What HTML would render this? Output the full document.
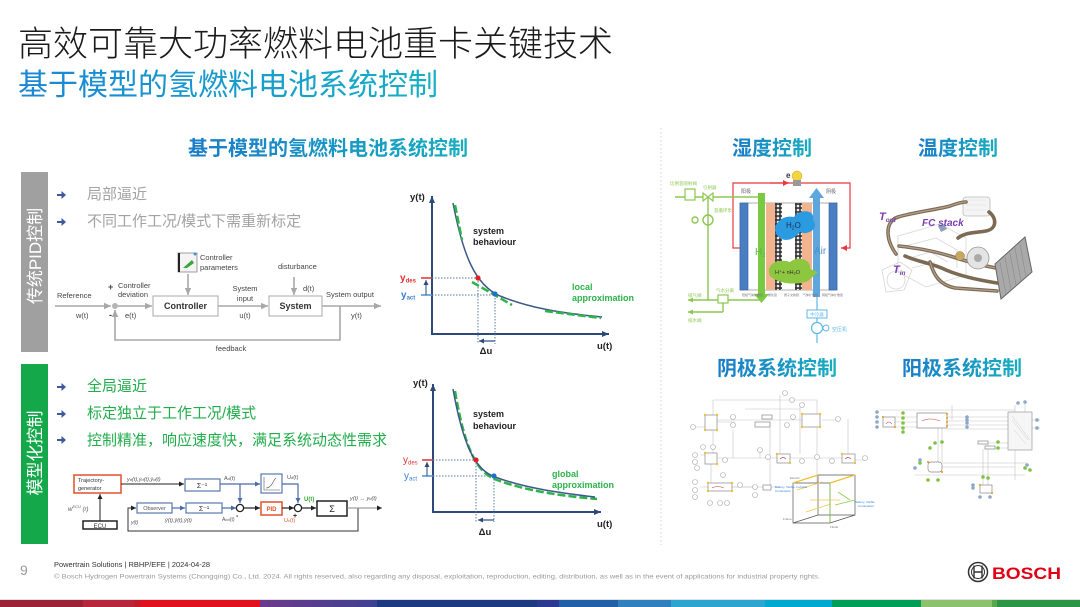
<!DOCTYPE html>
<html><head><meta charset="utf-8">
<style>
html,body{margin:0;padding:0;background:#fff;}
body{width:1080px;height:607px;overflow:hidden;position:relative;}
svg{position:absolute;left:0;top:0;}
text{font-family:"Liberation Sans","Noto Sans CJK SC",sans-serif;}
</style></head><body>
<svg width="1080" height="607" viewBox="0 0 1080 607" xmlns="http://www.w3.org/2000/svg">
<defs>
 <linearGradient id="gT" x1="0" x2="1" y1="0" y2="0"><stop offset="0" stop-color="#1a86d4"/><stop offset="1" stop-color="#16b0c4"/></linearGradient>
 <linearGradient id="gH" x1="0" x2="1" y1="0" y2="0"><stop offset="0" stop-color="#1a7cc8"/><stop offset="1" stop-color="#18aebf"/></linearGradient>
 <linearGradient id="gP" x1="0" x2="1"><stop offset="0" stop-color="#6c3a8c"/><stop offset="1" stop-color="#3f4090"/></linearGradient>
 <marker id="ag" markerWidth="8" markerHeight="8" refX="7" refY="4" orient="auto" markerUnits="userSpaceOnUse"><path d="M0,0.8 L7,4 L0,7.2 z" fill="#a8a8a8"/></marker>
 <marker id="ab" markerWidth="8" markerHeight="8" refX="7" refY="4" orient="auto" markerUnits="userSpaceOnUse"><path d="M0,1 L7,4 L0,7 z" fill="#2b4a7b"/></marker>
 <marker id="abs" markerWidth="6" markerHeight="6" refX="5" refY="3" orient="auto" markerUnits="userSpaceOnUse"><path d="M0,0.5 L5,3 L0,5.5 z" fill="#2b4a7b"/></marker>
 <marker id="ak" markerWidth="6" markerHeight="6" refX="5" refY="3" orient="auto" markerUnits="userSpaceOnUse"><path d="M0,0.5 L5,3 L0,5.5 z" fill="#222"/></marker>
 <marker id="abl" markerWidth="6" markerHeight="6" refX="5" refY="3" orient="auto" markerUnits="userSpaceOnUse"><path d="M0,0.5 L5,3 L0,5.5 z" fill="#4a6aa8"/></marker>
 <marker id="ar" markerWidth="7" markerHeight="7" refX="6" refY="3.5" orient="auto" markerUnits="userSpaceOnUse"><path d="M0,0.5 L6,3.5 L0,6.5 z" fill="#e8393f"/></marker>
 <marker id="agr" markerWidth="6" markerHeight="6" refX="5" refY="3" orient="auto" markerUnits="userSpaceOnUse"><path d="M0,0.5 L5,3 L0,5.5 z" fill="#8cc850"/></marker>
 <pattern id="chk" width="4" height="4" patternUnits="userSpaceOnUse"><rect width="4" height="4" fill="#3a3a3a"/><circle cx="2" cy="2" r="1.3" fill="#eee"/></pattern>
</defs>

<!-- Titles -->
<text x="18" y="56" font-size="35" fill="#1a1a1a" font-weight="300">高效可靠大功率燃料电池重卡关键技术</text>
<text x="18" y="95" font-size="30" fill="url(#gT)">基于模型的氢燃料电池系统控制</text>
<text x="328" y="155" font-size="20" font-weight="700" text-anchor="middle" fill="url(#gH)">基于模型的氢燃料电池系统控制</text>

<!-- separator -->
<line x1="661" y1="128" x2="661" y2="545" stroke="#cfcfcf" stroke-width="1" stroke-dasharray="1.5,2.5"/>

<!-- Left bars -->
<rect x="21" y="172" width="27" height="180" fill="#a0a0a0"/>
<text transform="translate(41,256) rotate(-90)" font-size="17" fill="#fff" text-anchor="middle">传统PID控制</text>
<rect x="21" y="364" width="27" height="180" fill="#14a84a"/>
<text transform="translate(41,453) rotate(-90)" font-size="17" fill="#fff" text-anchor="middle">模型化控制</text>

<!-- bullet arrows -->
<g fill="#3d5a99">
 <path d="M57,194 h4.5 v-3 l4.5,4 l-4.5,4 v-3 h-4.5 z"/>
 <path d="M57,221 h4.5 v-3 l4.5,4 l-4.5,4 v-3 h-4.5 z"/>
 <path d="M57,386 h4.5 v-3 l4.5,4 l-4.5,4 v-3 h-4.5 z"/>
 <path d="M57,413 h4.5 v-3 l4.5,4 l-4.5,4 v-3 h-4.5 z"/>
 <path d="M57,439 h4.5 v-3 l4.5,4 l-4.5,4 v-3 h-4.5 z"/>
</g>
<g font-size="15">
 <text x="87" y="199" fill="#a3a3a3">局部逼近</text>
 <text x="87" y="226" fill="#a3a3a3">不同工作工况/模式下需重新标定</text>
 <text x="87" y="391" fill="#22ad4b">全局逼近</text>
 <text x="87" y="418" fill="#22ad4b">标定独立于工作工况/模式</text>
 <text x="87" y="445" fill="#22ad4b">控制精准，响应速度快，满足系统动态性需求</text>
</g>

<!-- PID diagram -->
<g stroke="#a8a8a8" stroke-width="1.6" fill="none">
 <line x1="55" y1="306" x2="111" y2="306" marker-end="url(#ag)"/>
 <line x1="118" y1="306" x2="152" y2="306" marker-end="url(#ag)"/>
 <line x1="218" y1="306" x2="268" y2="306" marker-end="url(#ag)"/>
 <line x1="322" y1="306" x2="381" y2="306" marker-end="url(#ag)"/>
 <line x1="188" y1="274" x2="188" y2="295" marker-end="url(#ag)"/>
 <line x1="294" y1="277" x2="294" y2="295" marker-end="url(#ag)"/>
 <polyline points="340,306 340,340 115,340 115,310" marker-end="url(#ag)"/>
</g>
<circle cx="115" cy="306" r="3" fill="#b5b5b5"/>
<rect x="153" y="296" width="65" height="20" fill="#fff" stroke="#aaa" stroke-width="1"/>
<rect x="269" y="296" width="53" height="20" fill="#fff" stroke="#aaa" stroke-width="1"/>
<rect x="178" y="253" width="19" height="19" fill="#f4f4f4" stroke="#888" stroke-width="0.8"/>
<line x1="179" y1="253" x2="179" y2="272" stroke="#222" stroke-width="2"/>
<path d="M183,268 L192,260 L194,263 L187,268 z" fill="#3aa63a"/>
<circle cx="195" cy="254" r="1.5" fill="#4a90d9"/>
<g font-size="7.5" fill="#444">
 <text x="57" y="298">Reference</text>
 <text x="76" y="318">w(t)</text>
 <text x="108" y="290" font-weight="700" font-size="9">+</text>
 <text x="109" y="318" font-weight="700" font-size="9">-</text>
 <text x="118" y="288">Controller</text>
 <text x="118" y="297">deviation</text>
 <text x="125" y="318">e(t)</text>
 <text x="200" y="260">Controller</text>
 <text x="200" y="270">parameters</text>
 <text x="278" y="269">disturbance</text>
 <text x="303" y="291">d(t)</text>
 <text x="245" y="291" text-anchor="middle">System</text>
 <text x="245" y="301" text-anchor="middle">input</text>
 <text x="245" y="318" text-anchor="middle">u(t)</text>
 <text x="326" y="297">System output</text>
 <text x="351" y="318">y(t)</text>
 <text x="231" y="351" text-anchor="middle">feedback</text>
</g>
<text x="185.5" y="309" font-size="9" font-weight="700" fill="#333" text-anchor="middle">Controller</text>
<text x="295.5" y="309" font-size="9" font-weight="700" fill="#333" text-anchor="middle">System</text>

<!-- Graph 1 -->
<g>
 <line x1="432" y1="335" x2="432" y2="196" stroke="#2b4a7b" stroke-width="2" marker-end="url(#ab)"/>
 <line x1="431" y1="334" x2="609" y2="334" stroke="#2b4a7b" stroke-width="2" marker-end="url(#ab)"/>
 <g stroke="#5a7aa0" stroke-width="1" stroke-dasharray="1.5,1.5" fill="none">
  <line x1="432" y1="278" x2="478" y2="278"/>
  <line x1="432" y1="295" x2="495" y2="295"/>
  <line x1="478" y1="278" x2="478" y2="344"/>
  <line x1="495" y1="295" x2="495" y2="344"/>
 </g>
 <line x1="421" y1="278" x2="432" y2="278" stroke="#e03030" stroke-width="1.5"/>
 <line x1="421" y1="295" x2="432" y2="295" stroke="#4a90d9" stroke-width="1.5"/>
 <line x1="426" y1="295" x2="426" y2="280" stroke="#2b4a7b" stroke-width="1" marker-end="url(#abs)"/>
 <path d="M453,203 C463,255 475,285 500,296 C530,308 560,313 602,317" fill="none" stroke="#3d5a87" stroke-width="1.5"/>
 <g stroke="#2db34a" stroke-width="2.5" stroke-dasharray="8,3" fill="none">
  <path d="M455,205 C458,220 460,230 462,240"/>
  <line x1="472" y1="282" x2="512" y2="305"/>
  <line x1="545" y1="311" x2="601" y2="318"/>
 </g>
 <circle cx="478" cy="278" r="2.6" fill="#e02020"/>
 <circle cx="495" cy="294" r="2.6" fill="#1e6fd0"/>
 <line x1="495" y1="341" x2="479" y2="341" stroke="#2b4a7b" stroke-width="1.2" marker-end="url(#abs)"/>
 <g font-weight="700" font-size="9.5" fill="#222">
  <text x="410" y="200">y(t)</text>
  <text x="597" y="349">u(t)</text>
  <text x="486" y="354" text-anchor="middle">Δu</text>
  <text x="473" y="234" font-size="9">system</text>
  <text x="473" y="245" font-size="9">behaviour</text>
  <text x="572" y="290" font-size="9" fill="#2ab34a">local</text>
  <text x="572" y="301" font-size="9" fill="#2ab34a">approximation</text>
 </g>
 <text x="400" y="281" font-size="10" font-weight="700" fill="#e03030">y<tspan font-size="6" dy="1.5">des</tspan></text>
 <text x="401" y="298" font-size="10" font-weight="700" fill="#3a7fd0">y<tspan font-size="6" dy="1.5">act</tspan></text>
</g>

<!-- Graph 2 -->
<g>
 <line x1="433" y1="513" x2="433" y2="384" stroke="#2b4a7b" stroke-width="2" marker-end="url(#ab)"/>
 <line x1="432" y1="512" x2="601" y2="512" stroke="#2b4a7b" stroke-width="2" marker-end="url(#ab)"/>
 <g stroke="#5a7aa0" stroke-width="1" stroke-dasharray="1.5,1.5" fill="none">
  <line x1="433" y1="460" x2="476" y2="460"/>
  <line x1="433" y1="476" x2="494" y2="476"/>
  <line x1="476" y1="460" x2="476" y2="522"/>
  <line x1="494" y1="476" x2="494" y2="522"/>
 </g>
 <line x1="422" y1="460" x2="433" y2="460" stroke="#e03030" stroke-width="1.5"/>
 <line x1="422" y1="476" x2="433" y2="476" stroke="#4a90d9" stroke-width="1.5"/>
 <line x1="427" y1="476" x2="427" y2="462" stroke="#2b4a7b" stroke-width="1" marker-end="url(#abs)"/>
 <path d="M455,391 C465,450 477,473 497,480 C527,491 562,496 597,499" fill="none" stroke="#2db34a" stroke-width="2.5" stroke-dasharray="8,3"/>
 <path d="M453,389 C463,445 475,470 495,477 C525,488 560,493 595,497" fill="none" stroke="#3d5a87" stroke-width="1.5"/>
 <circle cx="476" cy="460" r="2.6" fill="#e02020"/>
 <circle cx="494" cy="476" r="2.6" fill="#1e6fd0"/>
 <line x1="494" y1="520" x2="478" y2="520" stroke="#2b4a7b" stroke-width="1.2" marker-end="url(#abs)"/>
 <g font-weight="700" font-size="9.5" fill="#222">
  <text x="413" y="386">y(t)</text>
  <text x="597" y="527">u(t)</text>
  <text x="485" y="535" text-anchor="middle">Δu</text>
  <text x="473" y="417" font-size="9">system</text>
  <text x="473" y="429" font-size="9">behaviour</text>
  <text x="552" y="477" font-size="9" fill="#2ab34a">global</text>
  <text x="552" y="488" font-size="9" fill="#2ab34a">approximation</text>
 </g>
 <text x="403" y="463" font-size="10" fill="#e03030">y<tspan font-size="6" dy="1.5">des</tspan></text>
 <text x="404" y="479" font-size="10" fill="#3a7fd0">y<tspan font-size="6" dy="1.5">act</tspan></text>
</g>

<!-- Model-based diagram -->
<g>
 <rect x="74" y="475" width="47" height="18" fill="#fff" stroke="#e2502a" stroke-width="1.5"/>
 <text x="78" y="482" font-size="5.5" fill="#333">Trajectory-</text>
 <text x="78" y="490" font-size="5.5" fill="#333">generator</text>
 <line x1="121" y1="484" x2="184" y2="484" stroke="#222" stroke-width="1" marker-end="url(#ak)"/>
 <text x="127" y="481" font-size="5.5" font-style="italic" fill="#555">y<tspan font-size="4">d</tspan>(t),ẏ<tspan font-size="4">d</tspan>(t),ÿ<tspan font-size="4">d</tspan>(t)</text>
 <rect x="185" y="479" width="35" height="12" fill="#fff" stroke="#5b79b0" stroke-width="1.2"/>
 <text x="202" y="488" font-size="7" text-anchor="middle" fill="#333">Σ⁻¹</text>
 <line x1="220" y1="484" x2="260" y2="484" stroke="#4a6aa8" stroke-width="1.2" marker-end="url(#abl)"/>
 <text x="224" y="480" font-size="5.5" fill="#555">A<tspan font-size="4">d</tspan>(t)</text>
 <rect x="261" y="474" width="21" height="19" fill="#fff" stroke="#5b79b0" stroke-width="1.2"/>
 <path d="M264,477 V490 H280 M266,488 C272,488 273,480 276,478" fill="none" stroke="#555" stroke-width="0.6"/>
 <text x="287" y="479" font-size="5.5" fill="#555">U<tspan font-size="4">d</tspan>(t)</text>
 <polyline points="282,484 298,484 298,503" fill="none" stroke="#4a6aa8" stroke-width="1.2" marker-end="url(#abl)"/>
 <line x1="240" y1="484" x2="240" y2="503" stroke="#4a6aa8" stroke-width="1.2" marker-end="url(#abl)"/>
 <polyline points="358,508 358,531 128,531 128,508 136,508" fill="none" stroke="#333" stroke-width="1" marker-end="url(#ak)"/>
 <rect x="137" y="503" width="35" height="10" fill="#fff" stroke="#5b79b0" stroke-width="1.2"/>
 <text x="154.5" y="510" font-size="5.5" text-anchor="middle" fill="#555">Observer</text>
 <line x1="172" y1="508" x2="185" y2="508" stroke="#4a6aa8" stroke-width="1.2" marker-end="url(#abl)"/>
 <rect x="186" y="503" width="36" height="10" fill="#fff" stroke="#5b79b0" stroke-width="1.2"/>
 <text x="204" y="511" font-size="7" text-anchor="middle" fill="#333">Σ⁻¹</text>
 <line x1="222" y1="508" x2="236" y2="508" stroke="#4a6aa8" stroke-width="1.2" marker-end="url(#abl)"/>
 <line x1="244" y1="508" x2="260" y2="508" stroke="#222" stroke-width="1.2" marker-end="url(#ak)"/>
 <rect x="261" y="502" width="21" height="13" fill="#fff" stroke="#e2502a" stroke-width="1.5"/>
 <text x="271.5" y="511" font-size="6" font-weight="700" text-anchor="middle" fill="#e2502a">PID</text>
 <line x1="282" y1="508" x2="294" y2="508" stroke="#222" stroke-width="1.2" marker-end="url(#ak)"/>
 <line x1="302" y1="508" x2="316" y2="508" stroke="#222" stroke-width="1.2" marker-end="url(#ak)"/>
 <circle cx="240" cy="508" r="3.6" fill="#fff" stroke="#222" stroke-width="1.3"/>
 <circle cx="298" cy="508" r="3.6" fill="#fff" stroke="#222" stroke-width="1.3"/>
 <rect x="317" y="501" width="30" height="15" fill="#fff" stroke="#222" stroke-width="1.5"/>
 <text x="332" y="512" font-size="9" text-anchor="middle" fill="#222">Σ</text>
 <line x1="347" y1="508" x2="382" y2="508" stroke="#888" stroke-width="1" marker-end="url(#ak)"/>
 <text x="350" y="500" font-size="5.5" font-style="italic" fill="#555">y(t) → y<tspan font-size="4">d</tspan>(t)</text>
 <text x="304" y="501" font-size="6" font-weight="700" fill="#3aaa35">U(t)</text>
 <text x="284" y="522" font-size="5.5" fill="#e05a30">U<tspan font-size="4">c</tspan>(t)</text>
 <text x="236" y="518" font-size="7" font-weight="700" fill="#222">-</text>
 <text x="293" y="518" font-size="7" font-weight="700" fill="#222">+</text>
 <text x="222" y="521" font-size="5" fill="#555">A<tspan font-size="3.5">init</tspan>(t)</text>
 <text x="165" y="522" font-size="5.5" font-style="italic" fill="#555">ŷ(t),ŷ(t),ŷ(t)</text>
 <text x="131" y="524" font-size="5" font-style="italic" fill="#555">y(t)</text>
 <rect x="83" y="521" width="34" height="8" fill="#fff" stroke="#222" stroke-width="1.5"/>
 <text x="100" y="528" font-size="6" text-anchor="middle" fill="#333">ECU</text>
 <line x1="100" y1="521" x2="100" y2="494" stroke="#222" stroke-width="1" marker-end="url(#ak)"/>
 <text x="68" y="511" font-size="6" font-style="italic" fill="#555">w<tspan font-size="4" dy="-3">ECU</tspan><tspan dy="3"> (r)</tspan></text>
</g>

<!-- Right headers -->
<g font-size="20" font-weight="700" text-anchor="middle" fill="url(#gH)">
 <text x="772" y="155">湿度控制</text>
 <text x="958" y="155">温度控制</text>
 <text x="777" y="375">阴极系统控制</text>
 <text x="962" y="375">阳极系统控制</text>
</g>

<!-- Humidity diagram -->
<g>
 <polyline points="741,248 733,248 733,183 850,183 850,248 841,248" fill="none" stroke="#e8393f" stroke-width="1.2" marker-end="url(#ar)"/>
 <line x1="770" y1="183" x2="789" y2="183" stroke="#e8393f" stroke-width="1.2" marker-end="url(#ar)"/>
 <circle cx="797" cy="176" r="5" fill="#f5d442" stroke="#c8a820" stroke-width="0.5"/>
 <rect x="793" y="180" width="8" height="6" fill="#999"/>
 <text x="786" y="178" font-size="8" font-weight="700" fill="#333">e</text>
 <text x="741" y="193" font-size="5" fill="#666">阳极</text>
 <text x="826" y="193" font-size="5" fill="#666">阴极</text>
 <rect x="740" y="203" width="97" height="87" fill="#fff" stroke="#999" stroke-width="0.8"/>
 <rect x="740" y="203" width="8" height="87" fill="#4a7ec2" stroke="#2f5f9f" stroke-width="0.6"/>
 <rect x="829" y="203" width="8" height="87" fill="#4a7ec2" stroke="#2f5f9f" stroke-width="0.6"/>
 <rect x="766" y="203" width="9" height="87" fill="#f2b48f"/>
 <rect x="775" y="203" width="7" height="87" fill="url(#chk)"/>
 <rect x="795" y="203" width="7" height="87" fill="url(#chk)"/>
 <rect x="802" y="203" width="10" height="87" fill="#f2b48f"/>
 <rect x="758" y="193" width="7" height="102" fill="#7ac943"/>
 <path d="M754,294 L769,294 L761.5,303 z" fill="#7ac943"/>
 <rect x="813" y="197" width="7" height="100" fill="#5fa6dc"/>
 <path d="M809,198 L824,198 L816.5,188 z" fill="#5fa6dc"/>
 <path d="M778,236 C770,228 780,214 794,217 C800,208 816,210 813,220 C820,228 808,236 800,232 C794,240 784,243 778,236 z" fill="#2a9be0"/>
 <text x="786" y="228" font-size="8" fill="#1a3050">H<tspan font-size="5" dy="1.5">2</tspan><tspan dy="-1.5">O</tspan></text>
 <path d="M770,276 C765,264 778,258 790,262 C798,255 812,260 810,269 L818,272 L808,281 C798,285 780,285 770,276 z" fill="#8dc63f"/>
 <text x="775" y="274" font-size="5.5" fill="#333">H⁺+ nH₂O</text>
 <text x="755" y="255" font-size="10" fill="#5ab845">H<tspan font-size="6" dy="2">2</tspan></text>
 <text x="814" y="254" font-size="10" fill="#4a90d0">Air</text>
 <g font-size="3" fill="#777">
  <text x="742" y="296">阳极气体扩散层</text><text x="768" y="296">催化层</text><text x="784" y="296">质子交换膜</text><text x="803" y="296">气体扩散层</text><text x="822" y="296">阴极气体扩散层</text>
 </g>
 <line x1="817" y1="297" x2="817" y2="343" stroke="#5fb8e8" stroke-width="1.2"/>
 <rect x="807" y="310" width="20" height="8" fill="#fff" stroke="#5fb8e8" stroke-width="1"/>
 <text x="817" y="316" font-size="4.5" text-anchor="middle" fill="#5fb8e8">中冷器</text>
 <circle cx="817" cy="328" r="5.5" fill="#fff" stroke="#5fb8e8" stroke-width="1.2"/>
 <circle cx="826" cy="328" r="3" fill="#fff" stroke="#5fb8e8" stroke-width="1"/>
 <text x="832" y="331" font-size="5" fill="#5fb8e8">空压机</text>
 <g stroke="#8cc850" stroke-width="1.4" fill="none">
  <line x1="675" y1="197" x2="758" y2="197"/>
  <line x1="708" y1="197" x2="708" y2="300"/>
  <line x1="763" y1="300" x2="688" y2="300" marker-end="url(#agr)"/>
  <line x1="723" y1="312" x2="688" y2="312" marker-end="url(#agr)"/>
  <line x1="723" y1="300" x2="723" y2="312"/>
  <circle cx="708" cy="220" r="5"/>
  <circle cx="695" cy="220" r="3"/>
 </g>
 <rect x="685" y="189" width="10" height="11" fill="#fff" stroke="#8cc850" stroke-width="1.2"/>
 <path d="M703,193 L713,201 L713,193 L703,201 z" fill="#fff" stroke="#8cc850" stroke-width="1.2"/>
 <rect x="718" y="295" width="10" height="8" fill="#fff" stroke="#8cc850" stroke-width="1.2"/>
 <g font-size="4.5" fill="#8cc850">
  <text x="670" y="185">比例氢喷射阀</text>
  <text x="703" y="189">引射器</text>
  <text x="714" y="212">氢循环泵</text>
  <text x="688" y="297">排气阀</text>
  <text x="716" y="292">气水分离</text>
  <text x="688" y="322">排水阀</text>
 </g>
</g>

<!-- Temperature illustration -->
<g>
 <g fill="none" stroke="#d6d6d6" stroke-width="0.8">
  <path d="M898,236 L940,224 L966,238 L966,275 L926,287 L898,272 z"/>
  <path d="M905,246 L936,238 L957,250 L957,268"/>
  <path d="M910,258 L930,252 L948,262 M912,268 L935,262"/>
  <circle cx="896" cy="280" r="9"/>
  <path d="M882,270 L900,262 L912,270 L904,290 L886,292 z"/>
 </g>
 <rect x="963" y="197" width="27" height="19" rx="3" fill="#f4f4f4" stroke="#bbb" stroke-width="0.8"/>
 <path d="M966,200 h20 M966,205 h20 M966,210 h20" stroke="#ddd" stroke-width="0.6"/>
 <g fill="none" stroke="#7d6a55" stroke-width="3.6" stroke-linecap="round">
  <path d="M896,254 C886,240 884,222 898,217 C915,212 935,210 950,206 C958,203 962,202 966,202"/>
  <path d="M989,212 C997,218 997,229 986,231 C975,233 966,232 958,238"/>
  <path d="M899,246 C915,248 930,250 950,256 C965,261 980,265 996,268"/>
  <path d="M905,256 C918,262 932,263 946,270 C960,276 978,280 997,283"/>
  <path d="M930,262 C934,276 940,285 955,288 L997,291"/>
 </g>
 <g fill="none" stroke="#b3a08a" stroke-width="1.2" stroke-linecap="round">
  <path d="M896,254 C886,240 884,222 898,217 C915,212 935,210 950,206 C958,203 962,202 966,202"/>
  <path d="M899,246 C915,248 930,250 950,256 C965,261 980,265 996,268"/>
  <path d="M930,262 C934,276 940,285 955,288 L997,291"/>
 </g>
 <circle cx="978" cy="258" r="11" fill="#e4e4e4" stroke="#999" stroke-width="0.8"/>
 <circle cx="978" cy="258" r="4" fill="#aaa"/>
 <circle cx="960" cy="256" r="4.5" fill="#c8a860" stroke="#8a7040" stroke-width="0.5"/>
 <path d="M938,226 l6,-2 l3,5 l-6,3 z" fill="#8fa0b8"/>
 <polygon points="995,264 1025,237 1032,272 1001,299" fill="#a9a9a9" stroke="#666" stroke-width="1"/>
 <g stroke="#8a8a8a" stroke-width="0.6">
  <line x1="1000" y1="262" x2="1006" y2="294"/><line x1="1005" y1="257" x2="1011" y2="290"/>
  <line x1="1010" y1="253" x2="1016" y2="285"/><line x1="1015" y1="248" x2="1021" y2="281"/>
  <line x1="1020" y1="244" x2="1026" y2="277"/>
 </g>
 <text x="879" y="220" font-size="11" font-weight="700" font-style="italic" fill="#7a3fb0">T<tspan font-size="6.5" dy="2">out</tspan></text>
 <text x="922" y="226" font-size="10" font-weight="700" font-style="italic" fill="#7a3fb0">FC stack</text>
 <text x="893" y="273" font-size="11" font-weight="700" font-style="italic" fill="#7a3fb0">T<tspan font-size="6.5" dy="2">in</tspan></text>
</g>

<!-- Cathode schematic -->
<g stroke="#c4c4c4" stroke-width="0.6" fill="none">
 <path d="M713,400 H817 M713,400 V415 M817,400 V415 M780,395 V454 M800,406 V454 M745,409 H800"/>
 <path d="M717,420 H802 M717,422 H735 M717,458 H842 M708,487 H780 M770,422 V488 M733,430 V458 M713,430 V453"/>
 <path d="M711,464 V483 M760,450 V458 M817,427 V483 M690,427 H705 M700,455 H705 M700,487 H708 M732,487 H755"/>
 <path d="M822,420 H838 M848,419 V454 M855,460 H865"/>
</g>
<g fill="#fff" stroke="#a8a8a8" stroke-width="0.6">
 <circle cx="785" cy="393" r="2.5"/><circle cx="792" cy="400" r="2.5"/><circle cx="802" cy="405" r="2.5"/>
 <circle cx="733" cy="417" r="2.5"/><circle cx="733" cy="425" r="2.5"/><circle cx="693" cy="427" r="2.5"/>
 <circle cx="793" cy="417" r="2.5"/><circle cx="838" cy="419" r="2.5"/><circle cx="787" cy="425" r="2.5"/>
 <circle cx="760" cy="450" r="2.5"/><circle cx="703" cy="447" r="2.5"/><circle cx="713" cy="447" r="2.5"/>
 <circle cx="695" cy="455" r="2.5"/><circle cx="695" cy="462" r="2.5"/><circle cx="697" cy="468" r="2.5"/>
 <circle cx="725" cy="460" r="2.5"/><circle cx="768" cy="457" r="2.5"/><circle cx="802" cy="461" r="2.5"/>
 <circle cx="817" cy="457" r="2.5"/><circle cx="832" cy="461" r="2.5"/><circle cx="865" cy="458" r="2.5"/>
 <circle cx="723" cy="475" r="2.5"/><circle cx="695" cy="482" r="2.5"/><circle cx="695" cy="490" r="2.5"/>
 <circle cx="695" cy="497" r="2.5"/><circle cx="710" cy="503" r="2.5"/><circle cx="720" cy="503" r="2.5"/>
 <circle cx="727" cy="503" r="2.5"/><circle cx="755" cy="487" r="2.5"/><circle cx="755" cy="495" r="2.5"/>
 <circle cx="740" cy="485" r="2.5"/>
</g>
<g fill="#fff" stroke="#888" stroke-width="0.7">
 <rect x="705" y="415" width="12" height="15"/><rect x="802" y="414" width="18" height="13"/>
 <rect x="755" y="422" width="15" height="5"/><rect x="762" y="415" width="10" height="4"/>
 <rect x="705" y="453" width="12" height="11"/><rect x="777" y="454" width="13" height="9"/>
 <rect x="842" y="454" width="13" height="9"/><rect x="708" y="483" width="24" height="8"/>
 <rect x="763" y="485" width="8" height="5"/>
</g>
<path d="M780,459 q3,-3 6,0 M845,459 q3,-3 6,0 M712,488 q5,-3 12,0" stroke="#d04040" stroke-width="0.6" fill="none"/>
<g fill="#f0c030">
 <circle cx="705" cy="415" r="1.2"/><circle cx="717" cy="415" r="1.2"/><circle cx="705" cy="430" r="1.2"/><circle cx="717" cy="430" r="1.2"/>
 <circle cx="802" cy="414" r="1.2"/><circle cx="820" cy="414" r="1.2"/><circle cx="802" cy="427" r="1.2"/><circle cx="820" cy="427" r="1.2"/>
 <circle cx="777" cy="454" r="1.2"/><circle cx="790" cy="463" r="1.2"/><circle cx="842" cy="454" r="1.2"/><circle cx="855" cy="463" r="1.2"/>
 <circle cx="708" cy="483" r="1.2"/><circle cx="732" cy="483" r="1.2"/><circle cx="708" cy="491" r="1.2"/><circle cx="732" cy="491" r="1.2"/>
 <circle cx="705" cy="453" r="1.2"/><circle cx="717" cy="464" r="1.2"/>
</g>
<g fill="none" stroke-width="0.7">
 <path d="M793,483 H830 V523 H793 z M818,475 H855 V515 H818 z M830,523 L855,515 M793,523 L818,515" stroke="#555"/>
 <path d="M793,483 L818,475 M830,483 L855,475" stroke="#f0c030" stroke-width="1.2"/>
 <path d="M797,490 L822,482 M810,500 H840 M806,512 L831,504" stroke="#f4c840" stroke-width="0.8"/>
 <path d="M830,483 V523 M838,492 L850,500 M835,505 L855,500" stroke="#8cc850" stroke-width="0.8"/>
</g>
<g font-size="3" fill="#3a7fd0">
 <text x="775" y="488">Battery, Visible, Invisible</text>
 <text x="775" y="492">Combustion</text>
 <text x="855" y="503">Battery, Visible</text>
 <text x="858" y="507">Combustion</text>
</g>
<g font-size="3" fill="#777"><text x="783" y="520">Frame</text><text x="830" y="528">Fluids</text><text x="790" y="479">Electric</text></g>

<!-- Anode schematic -->
<g stroke="#c4c4c4" stroke-width="0.6" fill="none">
 <path d="M895,417 H917 M895,422 H917 M895,427 H917 M947,417 H1008 M947,421 H1008 M947,425 H1008 M947,429 H1008"/>
 <path d="M938,428 V462 M942,428 V462 M942,463 H1027 M942,467 H1015 M915,475 H1025 M1015,450 V480"/>
 <path d="M988,444 V485 M983,449 V485 M978,443 H1008 M995,448 H1008 M880,410 H1015 M1032,420 H1040 M1032,428 H1040"/>
 <path d="M952,405 V420 M1015,405 V412 M1025,402 V412"/>
</g>
<rect x="1008" y="412" width="24" height="38" fill="#f6f6f6" stroke="#999" stroke-width="0.7"/>
<path d="M1012,420 l16,20 M1014,430 l12,14 M1012,416 l18,24" stroke="#ccc" stroke-width="0.5"/>
<g fill="#fff" stroke="#888" stroke-width="0.7">
 <rect x="883" y="417" width="12" height="10"/><rect x="917" y="413" width="30" height="15"/>
 <rect x="928" y="462" width="14" height="10" rx="3"/><rect x="980" y="485" width="12" height="8"/>
 <rect x="978" y="441" width="10" height="3"/><rect x="985" y="446" width="10" height="3"/>
</g>
<path d="M886,424 q3,-4 6,0 M922,421 q8,-4 18,0" stroke="#d04040" stroke-width="0.6" fill="none"/>
<g fill="#7dc242">
 <circle cx="903" cy="413" r="1.8"/><circle cx="903" cy="418" r="1.8"/><circle cx="903" cy="423" r="1.8"/>
 <circle cx="903" cy="428" r="1.8"/><circle cx="903" cy="432" r="1.8"/>
 <circle cx="935" cy="443" r="1.8"/><circle cx="930" cy="448" r="1.8"/><circle cx="942" cy="442" r="1.8"/>
 <circle cx="998" cy="442" r="1.8"/><circle cx="998" cy="448" r="1.8"/>
 <circle cx="920" cy="463" r="1.8"/><circle cx="928" cy="480" r="1.8"/><circle cx="938" cy="480" r="1.8"/>
 <circle cx="983" cy="477" r="1.8"/><circle cx="988" cy="478" r="1.8"/>
 <circle cx="1025" cy="468" r="1.8"/><circle cx="1030" cy="470" r="1.8"/>
</g>
<g fill="#8fa8c8">
 <circle cx="877" cy="412" r="1.8"/><circle cx="877" cy="417" r="1.8"/><circle cx="877" cy="422" r="1.8"/><circle cx="877" cy="427" r="1.8"/>
 <circle cx="967" cy="417" r="1.8"/><circle cx="967" cy="420" r="1.8"/><circle cx="967" cy="423" r="1.8"/><circle cx="967" cy="427" r="1.8"/>
 <circle cx="1037" cy="420" r="1.8"/><circle cx="1037" cy="428" r="1.8"/><circle cx="1018" cy="403" r="1.8"/><circle cx="1025" cy="402" r="1.8"/>
 <circle cx="920" cy="460" r="1.8"/><circle cx="915" cy="468" r="1.8"/><circle cx="973" cy="485" r="1.8"/><circle cx="973" cy="488" r="1.8"/>
 <circle cx="980" cy="497" r="1.8"/><circle cx="990" cy="497" r="1.8"/><circle cx="1027" cy="465" r="1.8"/>
</g>
<g fill="#f0a030">
 <circle cx="947" cy="414" r="1.1"/><circle cx="947" cy="418" r="1.1"/><circle cx="947" cy="422" r="1.1"/><circle cx="947" cy="426" r="1.1"/>
 <circle cx="883" cy="417" r="1.1"/><circle cx="895" cy="427" r="1.1"/><circle cx="928" cy="462" r="1.1"/><circle cx="942" cy="472" r="1.1"/>
 <circle cx="980" cy="485" r="1.1"/><circle cx="992" cy="493" r="1.1"/>
</g>

<!-- Footer -->
<text x="20" y="575" font-size="14" fill="#9a9a9a">9</text>
<text x="54" y="567" font-size="7" fill="#333" textLength="156" lengthAdjust="spacingAndGlyphs">Powertrain Solutions | RBHP/EFE | 2024-04-28</text>
<text x="54" y="578.5" font-size="6.5" fill="#9a9a9a" textLength="766" lengthAdjust="spacingAndGlyphs">© Bosch Hydrogen Powertrain Systems (Chongqing) Co., Ltd. 2024. All rights reserved, also regarding any disposal, exploitation, reproduction, editing, distribution, as well as in the event of applications for industrial property rights.</text>
<circle cx="978" cy="572" r="9.5" fill="none" stroke="#333" stroke-width="1.5"/>
<circle cx="978" cy="572" r="6.5" fill="none" stroke="#333" stroke-width="1"/>
<path d="M974,565.5 V578.5 M982,565.5 V578.5 M974,572 H982" stroke="#333" stroke-width="1.4" fill="none"/>
<text x="992" y="579" font-size="17" font-weight="700" fill="#e20015" textLength="69" lengthAdjust="spacingAndGlyphs">BOSCH</text>

<!-- color bar -->
<line x1="0" y1="599.5" x2="1080" y2="599.5" stroke="#e0e0e0" stroke-width="1"/>
<g>
 <rect x="0" y="600" width="83" height="7" fill="#9c2237"/>
 <rect x="83" y="600" width="51" height="7" fill="#b8263c"/>
 <rect x="134" y="600" width="7" height="7" fill="#c01c2c"/>
 <rect x="141" y="600" width="119" height="7" fill="#e1101c"/>
 <rect x="260" y="600" width="117" height="7" fill="url(#gP)"/>
 <rect x="377" y="600" width="160" height="7" fill="#1d3a80"/>
 <rect x="537" y="600" width="22" height="7" fill="#2b3990"/>
 <rect x="559" y="600" width="59" height="7" fill="#2160a6"/>
 <rect x="618" y="600" width="53" height="7" fill="#2f80bd"/>
 <rect x="671" y="600" width="94" height="7" fill="#2ba6d1"/>
 <rect x="765" y="600" width="67" height="7" fill="#00a9cf"/>
 <rect x="832" y="600" width="89" height="7" fill="#009f58"/>
 <rect x="921" y="600" width="71" height="7" fill="#8cc16e"/>
 <rect x="992" y="600" width="5" height="7" fill="#5aa84a"/>
 <rect x="997" y="600" width="83" height="7" fill="#2d9646"/>
</g>
</svg>
</body></html>
